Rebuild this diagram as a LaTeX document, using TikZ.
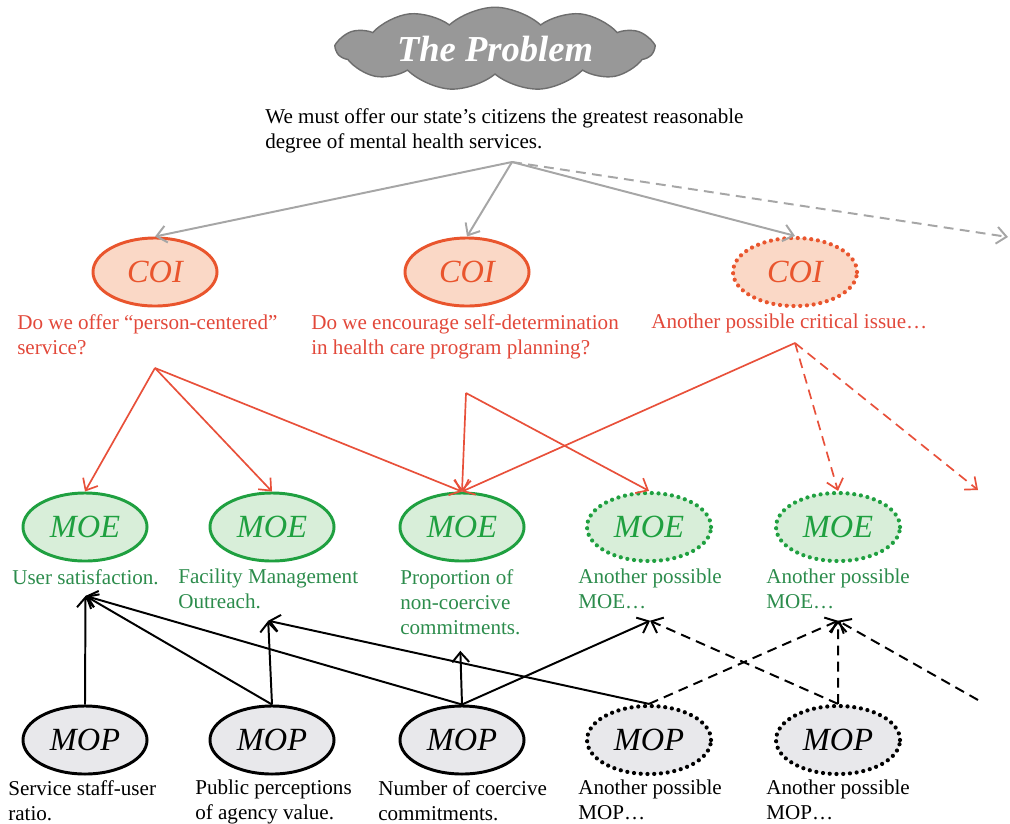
\documentclass[tikz,border=0pt]{standalone}
\usepackage{fontspec}
\setmainfont{Liberation Serif}
\usetikzlibrary{shapes.geometric,shapes.symbols,arrows.meta}
\definecolor{coiline}{HTML}{E9552D}
\definecolor{coifill}{HTML}{FAD8C6}
\definecolor{coitext}{HTML}{E2483A}
\definecolor{moeline}{HTML}{1FA040}
\definecolor{moefill}{HTML}{D8EED9}
\definecolor{moetext}{HTML}{2C8C4C}
\definecolor{mopfill}{HTML}{E8E8EB}
\definecolor{cloudfill}{HTML}{989898}
\definecolor{cloudline}{HTML}{6E6E6E}
\definecolor{grayarrow}{HTML}{A6A6A6}
\definecolor{redarrow}{HTML}{E8503A}
\begin{document}
\begin{tikzpicture}[x=0.025cm, y=-0.025cm,
  oval/.style={ellipse, minimum width=3.1cm, minimum height=1.7cm, inner sep=0pt, line width=2.1pt, font=\fontsize{23pt}{23pt}\selectfont\itshape},
  dotline/.style={line width=3pt, dash pattern=on 0pt off 4.8pt, line cap=round},
  coi/.style={oval, draw=coiline, fill=coifill, text=coiline},
  moe/.style={oval, draw=moeline, fill=moefill, text=moeline},
  mop/.style={oval, draw=black, fill=mopfill, text=black},
  lab/.style={anchor=north west, inner sep=0pt, align=left, font=\fontsize{15pt}{17.8pt}\selectfont},
  tip/.style={-{Straight Barb[length=7pt,width=12pt]}},
  grayarr/.style={tip, grayarrow, line width=1.4pt},
  redarr/.style={tip, redarrow, line width=1.2pt},
  blkarr/.style={tip, black, line width=1.4pt},
  dashline/.style={dash pattern=on 7pt off 4.5pt}]
\useasboundingbox (0,0) rectangle (1010,823);

\node[cloud, cloud puffs=11, cloud puff arc=85, aspect=5, draw=cloudline, fill=cloudfill, line width=1pt,
  minimum width=7.9cm, minimum height=1.5cm, inner sep=0pt, text=white,
  font=\fontsize{26pt}{26pt}\selectfont\bfseries\itshape] (problem) at (495,49) {The Problem};
\node[lab] (problemlab) at (265,108) {We must offer our state’s citizens the greatest reasonable\\degree of mental health services.};

\foreach \n/\x in {1/155,2/467}{
  \node[coi] (coi\n) at (\x,272) {COI};
}
\node[coi, dotline] (coi3) at (795,272) {COI};
\node[lab, text=coitext] (coilab1) at (17,314) {Do we offer “person-centered”\\service?};
\node[lab, text=coitext] (coilab2) at (311,314) {Do we encourage self-determination\\in health care program planning?};
\node[lab, text=coitext] (coilab3) at (651,314) {Another possible critical issue…};

\foreach \n/\x in {1/85,2/272,3/462}{
  \node[moe] (moe\n) at (\x,527) {MOE};
}
\foreach \n/\x in {4/649,5/838}{
  \node[moe, dotline] (moe\n) at (\x,527) {MOE};
}
\node[lab, text=moetext] (moelab1) at (12,569) {User satisfaction.};
\node[lab, text=moetext] (moelab2) at (178,569) {Facility Management\\Outreach.};
\node[lab, text=moetext] (moelab3) at (400,569) {Proportion of\\non-coercive\\commitments.};
\node[lab, text=moetext] (moelab4) at (578,569) {Another possible\\MOE…};
\node[lab, text=moetext] (moelab5) at (766,569) {Another possible\\MOE…};

\foreach \n/\x in {1/85,2/272,3/462}{
  \node[mop] (mop\n) at (\x,740) {MOP};
}
\foreach \n/\x in {4/649,5/838}{
  \node[mop, dotline] (mop\n) at (\x,740) {MOP};
}
\node[lab] (moplab1) at (8,780) {Service staff-user\\ratio.};
\node[lab] (moplab2) at (195,780) {Public perceptions\\of agency value.};
\node[lab] (moplab3) at (378,780) {Number of coercive\\commitments.};
\node[lab] (moplab4) at (578,780) {Another possible\\MOP…};
\node[lab] (moplab5) at (766,780) {Another possible\\MOP…};

\coordinate (pbase) at (512,162);
\coordinate (grayend) at (1008,237);
\coordinate (r1) at (155,368);
\coordinate (r2) at (466,393);
\coordinate (r3) at (795,343);
\coordinate (redend) at (978,490);
\coordinate (blackstart) at (978,700);
\foreach \n in {1,2,4,5}{
  \coordinate (t\n) at ([yshift=-0.28cm]moelab\n.south);
}
\coordinate (t3) at ([yshift=-0.4cm]moelab3.south);

\foreach \n in {1,2,3}{
  \draw[grayarr] (pbase) -- (coi\n.north);
}
\draw[grayarr, dashline] (pbase) -- (grayend);

\foreach \n in {1,2,3}{
  \draw[redarr] (r1) -- (moe\n.north);
}
\draw[redarr] (r2) -- (moe3.north);
\draw[redarr] (r2) -- (moe4.north);
\draw[redarr] (r3) -- (moe3.north);
\draw[redarr, dashline] (r3) -- (moe5.north);
\draw[redarr, dashline] (r3) -- (redend);

\draw[blkarr] (mop1.north) -- (t1);
\draw[blkarr] (mop2.north) -- (t1);
\draw[blkarr] (mop2.north) -- (t2);
\draw[blkarr] (mop3.north) -- (t1);
\draw[blkarr] (mop3.north) -- (t3);
\draw[blkarr] (mop3.north) -- (t4);
\draw[blkarr] (mop4.north) -- (t2);
\draw[blkarr, dashline] (mop4.north) -- (t5);
\draw[blkarr, dashline] (mop5.north) -- (t4);
\draw[blkarr, dashline] (mop5.north) -- (t5);
\draw[blkarr, dashline] (blackstart) -- (t5);
\end{tikzpicture}
\end{document}
